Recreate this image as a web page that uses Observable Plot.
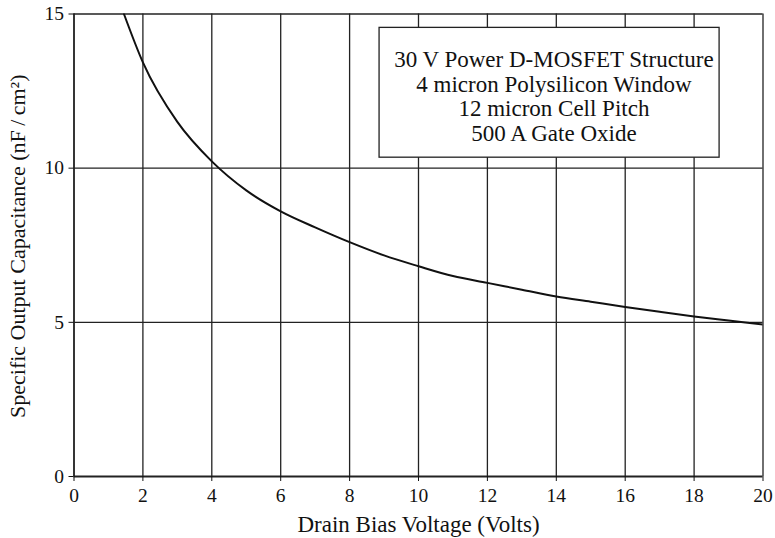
<!DOCTYPE html>
<html>
<head>
<meta charset="utf-8">
<script src="https://cdn.jsdelivr.net/npm/d3@7"></script>
<script src="https://cdn.jsdelivr.net/npm/@observablehq/plot@0.6"></script>
<style>
  html, body { margin: 0; padding: 0; background: #fff; }
</style>
</head>
<body>
<div id="chart"></div>
<script>
// Data
const voltage = [1.45, 2, 3, 4, 5, 6, 7, 8, 9, 10, 11, 12, 13, 14, 15, 16, 17, 18, 19, 20];
const capacitance = [15.0, 13.43, 11.5, 10.22, 9.28, 8.6, 8.08, 7.6, 7.17, 6.82, 6.5, 6.28, 6.06, 5.84, 5.67, 5.5, 5.34, 5.19, 5.06, 4.93];
const xTicks = [0, 2, 4, 6, 8, 10, 12, 14, 16, 18, 20];
const yTicks = [0, 5, 10, 15];
const yGrid = [5, 10, 15];
const xLabel = "Drain Bias Voltage (Volts)";
const yLabel = "Specific Output Capacitance (nF\u2009/\u2009cm\u00B2)";
const noteLines = ["30 V Power D-MOSFET Structure", "4 micron Polysilicon Window", "12 micron Cell Pitch", "500 A Gate Oxide"];

const serif = "'Liberation Serif', 'DejaVu Serif', serif";
const data = voltage.map((v, i) => ({v, c: capacitance[i]}));

const chart = Plot.plot({
  width: 775,
  height: 538,
  marginLeft: 73.5,
  marginRight: 12.5,
  marginTop: 13.5,
  marginBottom: 62,
  style: {fontFamily: serif, fontSize: "19px", color: "#111", background: "#fff"},
  x: {domain: [0, 20]},
  y: {domain: [0, 15]},
  marks: [
    Plot.ruleX(xTicks, {stroke: "#222", strokeWidth: 1.3}),
    Plot.ruleY(yGrid, {stroke: "#222", strokeWidth: 1.3}),
    Plot.rect([{}], {x1: 8.87, x2: 18.74, y1: 10.34, y2: 14.55, fill: "#fff", stroke: "#222", strokeWidth: 1.3}),
    Plot.text([noteLines.join("\n")], {x: 13.93, y: 12.33, fontSize: 23, lineHeight: 1.07, fontFamily: serif, fill: "#111"}),
    Plot.line(data, {x: "v", y: "c", curve: "monotone-x", stroke: "#111", strokeWidth: 2, clip: true}),
    Plot.ruleY([0], {stroke: "#222", strokeWidth: 2}),
    Plot.ruleX([0], {stroke: "#222", strokeWidth: 1.5}),
    Plot.axisX({ticks: xTicks, tickSize: 5, tickPadding: 7, label: null, fontSize: 19.5, fontFamily: serif}),
    Plot.axisY({ticks: yTicks, tickSize: 5, tickPadding: 5, label: null, fontSize: 19.5, fontFamily: serif}),
    Plot.text([xLabel], {frameAnchor: "bottom", lineAnchor: "middle", textAnchor: "middle", dy: 48.5, fontSize: 23, fontFamily: serif, fill: "#111"}),
    Plot.text([yLabel], {frameAnchor: "left", lineAnchor: "middle", textAnchor: "middle", rotate: -90, dx: -56, dy: 1, fontSize: 22, fontFamily: serif, fill: "#111"})
  ]
});
document.getElementById("chart").appendChild(chart);
</script>
</body>
</html>
